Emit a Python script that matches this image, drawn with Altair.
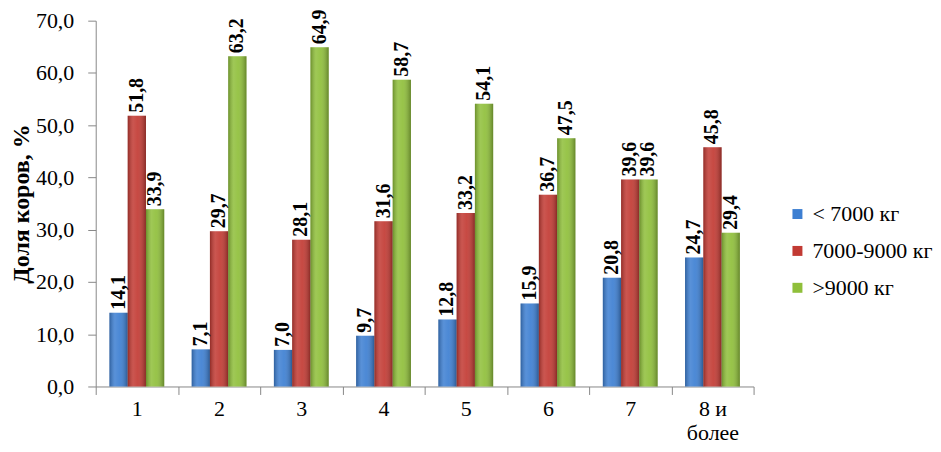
import altair as alt
import pandas as pd

categories = ["1", "2", "3", "4", "5", "6", "7", "8 и более"]
series_names = ["< 7000 кг", "7000-9000 кг", ">9000 кг"]
s_low = [14.1, 7.1, 7.0, 9.7, 12.8, 15.9, 20.8, 24.7]
s_mid = [51.8, 29.7, 28.1, 31.6, 33.2, 36.7, 39.6, 45.8]
s_high = [33.9, 63.2, 64.9, 58.7, 54.1, 47.5, 39.6, 29.4]
colors = ["#3d7fd2", "#c23a33", "#8fbf3a"]
y_ticks = [0, 10, 20, 30, 40, 50, 60, 70]

rows = []
for name, vals in zip(series_names, [s_low, s_mid, s_high]):
    for c, v in zip(categories, vals):
        rows.append({"cat": c, "series": name, "value": v})
df = pd.DataFrame(rows)

FONT = "Liberation Serif, Times New Roman, serif"

x_enc = alt.X(
    "cat:N",
    sort=categories,
    scale=alt.Scale(paddingInner=0, paddingOuter=0),
    axis=alt.Axis(
        title=None,
        labelAngle=0,
        labelFont=FONT,
        labelFontSize=22,
        labelColor="#000",
        labelPadding=4,
        labelLineHeight=24,
        labelExpr="datum.label == '8 и более' ? ['8 и', 'более'] : datum.label",
        tickBand="extent",
        tickSize=8,
        tickColor="#888",
        domainColor="#888",
        grid=False,
    ),
)
xoff = alt.XOffset("series:N", sort=series_names,
                   scale=alt.Scale(paddingOuter=0.75, paddingInner=0))
y_enc = alt.Y(
    "value:Q",
    scale=alt.Scale(domain=[0, 70], nice=False),
    axis=alt.Axis(
        title="Доля коров, %",
        titleFont=FONT,
        titleFontSize=24,
        titleFontWeight="bold",
        titleColor="#000",
        titlePadding=2,
        values=y_ticks,
        labelExpr="replace(format(datum.value, '.1f'), '.', ',')",
        labelFont=FONT,
        labelFontSize=22,
        labelColor="#000",
        labelPadding=14,
        tickSize=8,
        tickColor="#888",
        domainColor="#888",
        grid=False,
    ),
)

base = alt.Chart(df)

bars = base.mark_bar().encode(
    x=x_enc,
    xOffset=xoff,
    y=y_enc,
    color=alt.Color(
        "series:N",
        sort=series_names,
        scale=alt.Scale(domain=series_names, range=colors),
        legend=alt.Legend(
            title=None,
            orient="none",
            legendX=693,
            legendY=183,
            symbolType="square",
            symbolSize=100,
            symbolStrokeWidth=0,
            labelFont=FONT,
            labelFontSize=22,
            labelColor="#000",
            labelOffset=4,
            labelLimit=200,
            rowPadding=15,
            padding=0,
        ),
    ),
)

shade = base.mark_bar(
    fill=alt.Gradient(
        gradient="linear",
        x1=0, x2=1, y1=0, y2=0,
        stops=[
            alt.GradientStop(offset=0, color="rgba(0,0,0,0.25)"),
            alt.GradientStop(offset=0.3, color="rgba(255,255,255,0.14)"),
            alt.GradientStop(offset=0.55, color="rgba(255,255,255,0.08)"),
            alt.GradientStop(offset=1, color="rgba(0,0,0,0.3)"),
        ],
    )
).encode(x=alt.X("cat:N", sort=categories), xOffset=xoff, y="value:Q")

labels = base.transform_calculate(
    lbl="replace(format(datum.value, '.1f'), '.', ',')"
).mark_text(
    angle=270,
    align="left",
    baseline="middle",
    dx=3,
    font=FONT,
    fontSize=20,
    fontWeight="bold",
    color="#000",
).encode(x=alt.X("cat:N", sort=categories), xOffset=xoff, y="value:Q", text="lbl:N")

chart = (
    alt.layer(bars, shade, labels)
    .properties(
        width=660,
        height=367,
        padding={"left": 88, "top": 12, "right": 180, "bottom": 60},
        autosize=alt.AutoSizeParams(type="none"),
    )
    .configure(font=FONT)
    .configure_view(stroke=None)
)

chart.save("out.html", embed_options={"renderer": "svg", "actions": False})
